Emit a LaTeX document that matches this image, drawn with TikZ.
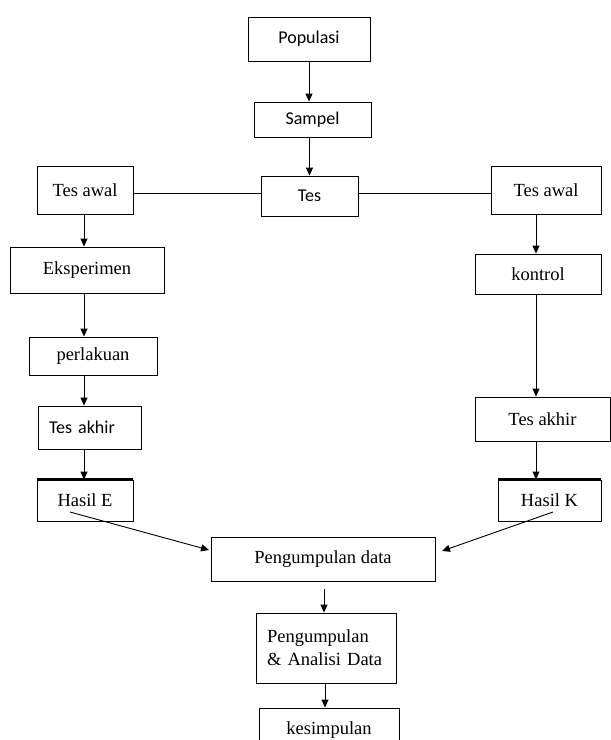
\documentclass[tikz,border=0pt]{standalone}
\usepackage{fontspec}
\setmainfont{Liberation Serif}
\newfontfamily\calibrifont{Carlito}
\usetikzlibrary{arrows.meta}
\begin{document}
\begin{tikzpicture}[x=1pt,y=-1pt,
 box/.style={draw, line width=0.9pt, inner sep=0pt, font=\fontsize{18.5}{23}\selectfont},
 sbox/.style={box, font=\calibrifont\fontsize{18}{22}\selectfont},
 arr/.style={-{Triangle[length=8pt,width=7pt]}, line width=0.9pt},
 ln/.style={line width=0.9pt},
 thicktop/.style={line width=2.6pt}]
\useasboundingbox (0,0) rectangle (611,740);
\clip (0,0) rectangle (611,740);
\fill[white] (0,0) rectangle (611,740);

\node[sbox, minimum width=122pt, minimum height=44pt] (pop) at (309,39) {Populasi};
\node[sbox, minimum width=117pt, minimum height=35pt] (sam) at (312.5,119.5) {Sampel};
\node[sbox, minimum width=97pt, minimum height=40pt] (tes) at (309.5,196) {Tes};
\node[box, minimum width=96pt, minimum height=48pt] (tal) at (85,190) {Tes awal};
\node[box, minimum width=110pt, minimum height=48pt] (tar) at (546,190) {Tes awal};
\node[box, minimum width=154pt, minimum height=46pt] (eks) at (87,270) {Eksperimen};
\node[box, minimum width=126pt, minimum height=40pt] (kon) at (538,274) {kontrol};
\node[box, minimum width=128pt, minimum height=38pt] (per) at (93,356) {perlakuan};
\node[sbox, text width=81pt, inner xsep=11pt, align=left, minimum height=43pt] (tkl) at (89.5,427.5) {Tes akhir};
\node[box, minimum width=135pt, minimum height=44pt] (tkr) at (542.5,419) {Tes akhir};
\node[box, minimum width=96pt, minimum height=41pt] (he) at (85,500.5) {Hasil E};
\node[box, minimum width=103pt, minimum height=41pt] (hk) at (549.5,500.5) {Hasil K};
\node[box, minimum width=224pt, minimum height=44pt] (pd) at (323,559) {Pengumpulan data};
\node[box, text width=118pt, inner xsep=11pt, align=left, minimum height=70pt] (pa) at (326,648) {Pengumpulan\\\& Analisi Data};
\node[box, minimum width=140pt, minimum height=44pt] (kes) at (329,730) {kesimpulan};

\draw[thicktop] (he.north west) -- (he.north east);
\draw[thicktop] (hk.north west) -- (hk.north east);

\coordinate (ly) at (0,193);
\coordinate (lx) at (84,0);
\coordinate (rx) at (536,0);
\coordinate (cx) at (324,0);
\coordinate (cx2) at (325,0);

\draw[arr] (pop.south) -- (pop.south |- sam.north);
\draw[arr] (sam.south -| tes.north) -- (tes.north);
\draw[ln] (tal.east |- ly) -- (tes.west |- ly);
\draw[ln] (tes.east |- ly) -- (tar.west |- ly);

\draw[arr] (tal.south -| lx) -- (eks.north -| lx);
\draw[arr] (eks.south -| lx) -- (per.north -| lx);
\draw[arr] (per.south -| lx) -- (tkl.north -| lx);
\draw[arr] (tkl.south -| lx) -- (he.north -| lx);

\draw[arr] (tar.south -| rx) -- (kon.north -| rx);
\draw[arr] (kon.south -| rx) -- (tkr.north -| rx);
\draw[arr] (tkr.south -| rx) -- (hk.north -| rx);

\coordinate (heS) at (70,512);
\coordinate (pdL) at (209,550);
\coordinate (hkS) at (553,512);
\coordinate (pdR) at (442,551);
\draw[arr] (heS) -- (pdL);
\draw[arr] (hkS) -- (pdR);

\coordinate (pdB) at (324,589);
\draw[arr] (pdB) -- (pa.north -| cx);
\draw[arr] (pa.south -| cx2) -- (kes.north -| cx2);
\end{tikzpicture}
\end{document}
